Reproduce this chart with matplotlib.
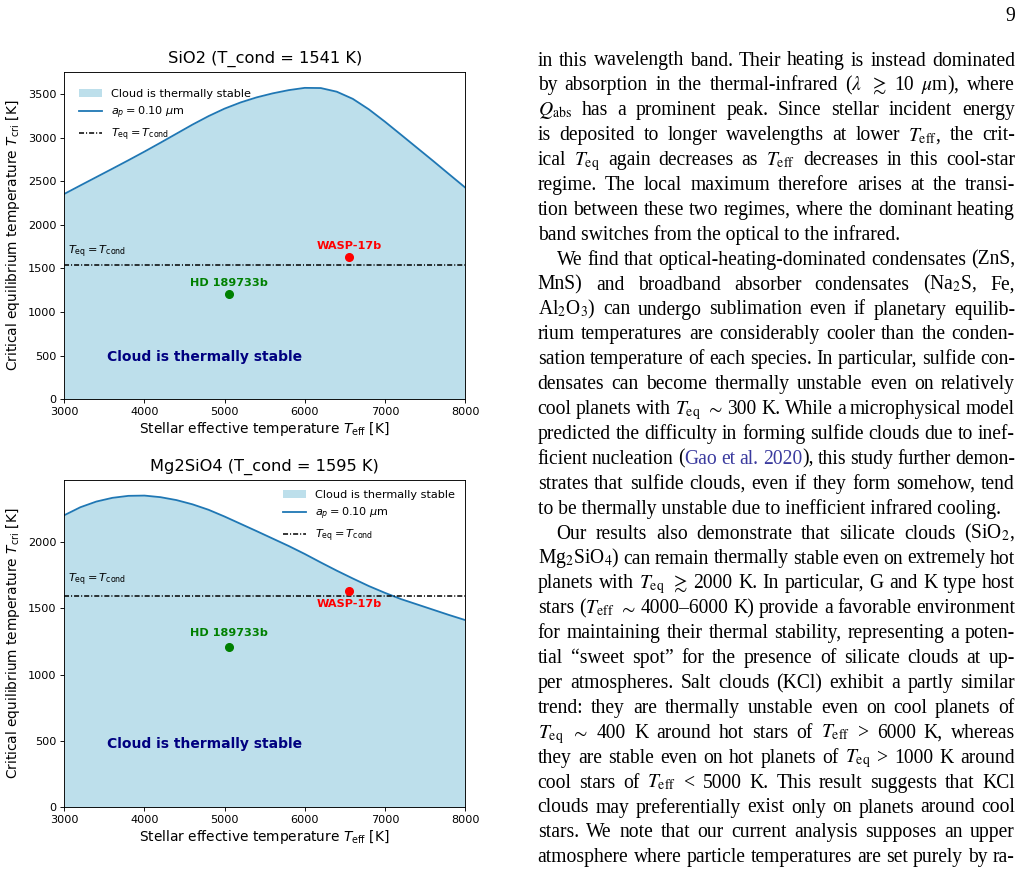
import numpy as np
import matplotlib.pyplot as plt

# --- data ---
teff = [3000, 3200, 3400, 3600, 3800, 4000, 4200, 4400, 4600, 4800, 5000, 5200, 5400,
        5600, 5800, 6000, 6200, 6400, 6600, 6800, 7000, 7200, 7400, 7600, 7800, 8000]
tcri_sio2 = [2355, 2452, 2548, 2644, 2741, 2840, 2942, 3046, 3150, 3247, 3333, 3404, 3462,
             3508, 3545, 3571, 3569, 3527, 3445, 3325, 3184, 3035, 2885, 2735, 2582, 2430]
tcri_mg2sio4 = [2202, 2262, 2305, 2333, 2348, 2350, 2338, 2316, 2284, 2243, 2192, 2137, 2082,
                2026, 1970, 1910, 1846, 1784, 1725, 1668, 1617, 1570, 1530, 1490, 1450, 1412]
species = ["SiO2", "Mg2SiO4"]
tcond = [1541, 1595]
planet_names = ["HD 189733b", "WASP-17b"]
planet_teff = [5050, 6550]
planet_teq = [1210, 1630]
planet_colors = ["green", "red"]

W, H = 1028, 874
fig = plt.figure(figsize=(W / 100, H / 100), dpi=100)

# axes boxes in pixels: left, top, right, bottom
boxes = [(64.3, 72.3, 465.0, 399.3), (64.3, 480.0, 465.0, 807.3)]
legend_kw = [dict(loc="upper left", bbox_to_anchor=(0.012, 0.98)),
             dict(loc="upper right")]
label_below = [[False, False], [False, True]]

for k, (tcri, name, tc) in enumerate(zip([tcri_sio2, tcri_mg2sio4], species, tcond)):
    l, t, r, b = boxes[k]
    ax = fig.add_axes([l / W, 1 - b / H, (r - l) / W, (b - t) / H])
    ax.fill_between(teff, 0, tcri, color="lightblue", alpha=0.8, lw=0,
                    label="Cloud is thermally stable")
    ax.plot(teff, tcri, color="C0", lw=1.3, label=r"$a_p = 0.10\ \mu$m")
    ax.axhline(tc, color="k", lw=1.1, ls=(0, (3.3, 1.3, 0.7, 1.3)),
               label=r"$T_{\rm eq} = T_{\rm cond}$")
    ax.text(3050, tc + 60, r"$T_{\rm eq} = T_{\rm cond}$", fontsize=8.1, va="bottom")

    for i in range(len(planet_names)):
        ax.plot(planet_teff[i], planet_teq[i], "o", color=planet_colors[i], ms=5.5)
        if label_below[k][i]:
            ax.text(planet_teff[i], planet_teq[i] - 60, planet_names[i], color=planet_colors[i],
                    fontsize=8.1, fontweight="bold", ha="center", va="top")
        else:
            ax.text(planet_teff[i], planet_teq[i] + 65, planet_names[i], color=planet_colors[i],
                    fontsize=8.1, fontweight="bold", ha="center", va="bottom")

    ax.text(3530, 480, "Cloud is thermally stable", color="navy", fontsize=10,
            fontweight="bold", va="center")

    ax.set_xlim(3000, 8000)
    ax.set_ylim(0, max(tcri) * 1.05)
    ax.set_title(f"{name} (T_cond = {tc} K)", fontsize=11.7, pad=6.9)
    ax.set_xlabel(r"Stellar effective temperature $T_{\rm eff}$ [K]", fontsize=9.9, labelpad=2)
    ax.set_ylabel(r"Critical equilibrium temperature $T_{\rm cri}$ [K]", fontsize=9.9)
    ax.tick_params(labelsize=8.1, length=2.8, width=0.65, pad=2.8)
    for s in ax.spines.values():
        s.set_linewidth(0.65)
    ax.legend(fontsize=8.1, frameon=False, **legend_kw[k])

# --- page text on the right ---
lines = [
    "in this wavelength band. Their heating is instead dominated",
    r"by absorption in the thermal-infrared ($\lambda$ $\gtrsim$ 10 $\mu$m), where",
    r"$Q_\mathrm{abs}$ has a prominent peak. Since stellar incident energy",
    r"is deposited to longer wavelengths at lower $T_\mathrm{eff}$, the crit-",
    r"ical $T_\mathrm{eq}$ again decreases as $T_\mathrm{eff}$ decreases in this cool-star",
    "regime. The local maximum therefore arises at the transi-",
    "tion between these two regimes, where the dominant heating",
    "band switches from the optical to the infrared.",
    "We find that optical-heating-dominated condensates (ZnS,",
    r"MnS) and broadband absorber condensates (Na$_2$S, Fe,",
    r"Al$_2$O$_3$) can undergo sublimation even if planetary equilib-",
    "rium temperatures are considerably cooler than the conden-",
    "sation temperature of each species. In particular, sulfide con-",
    "densates can become thermally unstable even on relatively",
    r"cool planets with $T_\mathrm{eq}$ $\sim$ 300 K. While a microphysical model",
    "predicted the difficulty in forming sulfide clouds due to inef-",
    "ficient nucleation (|#Gao #et #al. #2020|), this study further demon-",
    "strates that sulfide clouds, even if they form somehow, tend",
    "to be thermally unstable due to inefficient infrared cooling.",
    r"Our results also demonstrate that silicate clouds (SiO$_2$,",
    r"Mg$_2$SiO$_4$) can remain thermally stable even on extremely hot",
    r"planets with $T_\mathrm{eq}$ $\gtrsim$ 2000 K. In particular, G and K type host",
    r"stars ($T_\mathrm{eff}$ $\sim$ 4000–6000 K) provide a favorable environment",
    "for maintaining their thermal stability, representing a poten-",
    "tial “sweet spot” for the presence of silicate clouds at up-",
    "per atmospheres. Salt clouds (KCl) exhibit a partly similar",
    "trend: they are thermally unstable even on cool planets of",
    r"$T_\mathrm{eq}$ $\sim$ 400 K around hot stars of $T_\mathrm{eff}$ > 6000 K, whereas",
    r"they are stable even on hot planets of $T_\mathrm{eq}$ > 1000 K around",
    r"cool stars of $T_\mathrm{eff}$ < 5000 K. This result suggests that KCl",
    "clouds may preferentially exist only on planets around cool",
    "stars. We note that our current analysis supposes an upper",
    "atmosphere where particle temperatures are set purely by ra-",
]
para_end = {7, 18}
para_start = {8, 19}

col_left, col_right = 537.7, 1015.0
base0, step = 65.5, 24.9
fs = 14.1
tkw = dict(fontsize=fs, family="Liberation Serif", math_fontfamily="stix", va="baseline")
renderer = fig.canvas.get_renderer()

for i, line in enumerate(lines):
    y = 1 - (base0 + i * step) / H
    x0 = col_left + (19 if i in para_start else 0)
    if i in para_end:
        # last line of a paragraph: natural spacing, not justified
        fig.text(x0 / W, y, line, **tkw)
        continue
    words = []
    for w in line.split(" "):
        pieces = []
        for p in w.split("|"):
            if not p:
                continue
            if p.startswith("#"):
                pieces.append(fig.text(0, y, p[1:], color="#3a3a9e", **tkw))
            else:
                pieces.append(fig.text(0, y, p, color="black", **tkw))
        widths = [tx.get_window_extent(renderer).width for tx in pieces]
        words.append((pieces, widths))
    total = sum(sum(wd) for _, wd in words)
    gap = (col_right - x0 - total) / (len(words) - 1)
    x = x0
    for pieces, widths in words:
        for tx, wd in zip(pieces, widths):
            tx.set_x(x / W)
            x += wd
        x += gap

fig.text(col_right / W, 1 - 20.7 / H, "9", ha="right", **tkw)

fig.savefig("out.png", dpi=100)
